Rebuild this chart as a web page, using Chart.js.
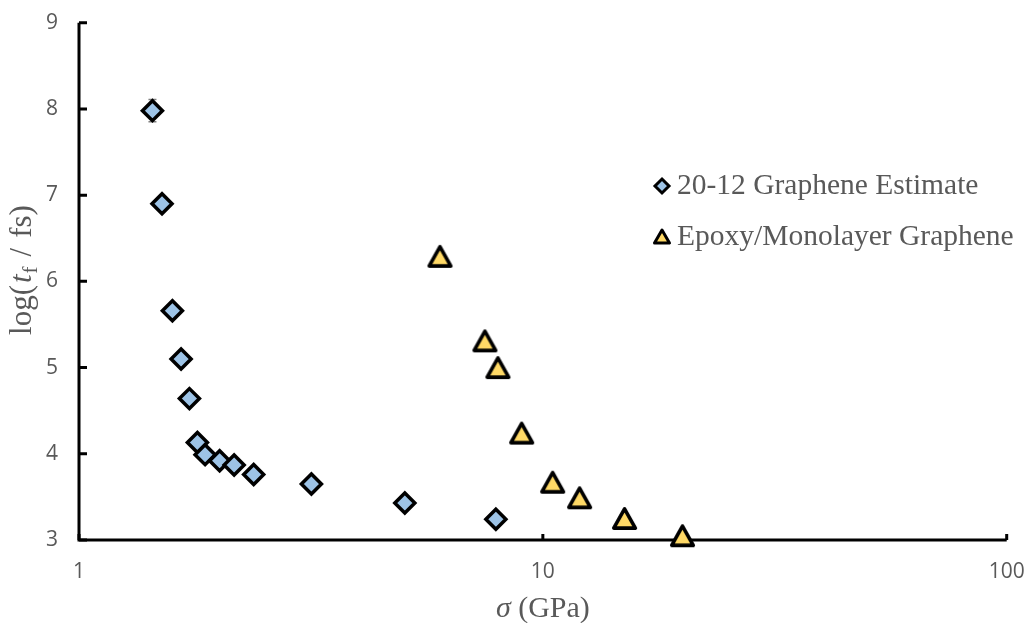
<!DOCTYPE html>
<html>
<head>
<meta charset="utf-8">
<script src="https://cdn.jsdelivr.net/npm/chart.js@4.4.0/dist/chart.umd.min.js"></script>
<style>
  html, body { margin: 0; padding: 0; background: #ffffff; }
  #wrap { width: 1028px; height: 623px; }
</style>
</head>
<body>
<div id="wrap"><canvas id="c" width="1028" height="623"></canvas></div>
<script>
// Fracture stress (GPa) against log of time-to-failure (fs)
const estimateSigma = [1.44, 1.51, 1.59, 1.66, 1.73, 1.80, 1.87, 2.01, 2.16, 2.38, 3.17, 5.04, 7.92];
const estimateLogT  = [7.98, 6.90, 5.66, 5.10, 4.64, 4.13, 3.99, 3.92, 3.87, 3.76, 3.65, 3.43, 3.24];
const estimateErr   = [0.13, 0, 0, 0, 0, 0, 0, 0, 0, 0, 0, 0, 0];

const epoxySigma = [6, 7.5, 8, 9, 10.5, 12, 15, 20];
const epoxyLogT  = [6.29, 5.31, 5.00, 4.24, 3.67, 3.49, 3.25, 3.05];

const xTicks = [1, 10, 100];
const yTicks = [3, 4, 5, 6, 7, 8, 9];

const seriesNames = ['20-12 Graphene Estimate', 'Epoxy/Monolayer Graphene'];

const BLUE = '#9DC3E6';
const GOLD = '#FFD966';
const INK = '#000000';
const TEXT = '#595959';
const SERIF = '"Liberation Serif", "Times New Roman", serif';
const SANS = '"Open Sans", "Liberation Sans", sans-serif';

// Triangle marker centred on its bounding box
function triangleMarker(hw, hh, lw) {
  const size = Math.ceil(2 * Math.max(hw, hh) + 2 * lw + 4);
  const cv = document.createElement('canvas');
  cv.width = size; cv.height = size;
  const g = cv.getContext('2d');
  const c = size / 2;
  g.beginPath();
  g.moveTo(c, c - hh);
  g.lineTo(c + hw, c + hh);
  g.lineTo(c - hw, c + hh);
  g.closePath();
  g.fillStyle = GOLD;
  g.fill();
  g.lineJoin = 'round';
  g.lineWidth = lw;
  g.strokeStyle = INK;
  g.stroke();
  return cv;
}

const triMark = triangleMarker(10.8, 9.6, 3.6);

function toPoints(xs, ys) { return xs.map((x, i) => ({ x: x, y: ys[i] })); }

function drawRuns(ctx, runs, cx, baseY) {
  let total = 0;
  runs.forEach(r => { ctx.font = r.font; r.w = ctx.measureText(r.text).width + (r.gap || 0); total += r.w; });
  let x = cx - total / 2;
  runs.forEach(r => { ctx.font = r.font; ctx.fillText(r.text, x, baseY + (r.dy || 0)); x += r.w; });
}

// Axis lines with inward tick marks, error caps, titles and legend
const frame = {
  id: 'frame',
  beforeDatasetsDraw(chart) {
    const { ctx, chartArea: a, scales: { x, y } } = chart;
    ctx.save();
    ctx.strokeStyle = '#808080';
    ctx.lineWidth = 1.5;
    estimateErr.forEach((e, i) => {
      if (!e) return;
      const px = x.getPixelForValue(estimateSigma[i]);
      const p1 = y.getPixelForValue(estimateLogT[i] + e);
      const p2 = y.getPixelForValue(estimateLogT[i] - e);
      ctx.beginPath();
      ctx.moveTo(px, p1); ctx.lineTo(px, p2);
      ctx.moveTo(px - 4, p1); ctx.lineTo(px + 4, p1);
      ctx.moveTo(px - 4, p2); ctx.lineTo(px + 4, p2);
      ctx.stroke();
    });
    ctx.strokeStyle = INK;
    ctx.lineWidth = 3;
    ctx.lineCap = 'butt';
    ctx.beginPath();
    ctx.moveTo(a.left, a.top);
    ctx.lineTo(a.left, a.bottom);
    ctx.lineTo(a.right, a.bottom);
    ctx.stroke();
    ctx.beginPath();
    yTicks.forEach(v => {
      const py = y.getPixelForValue(v);
      ctx.moveTo(a.left, py); ctx.lineTo(a.left + 8, py);
    });
    xTicks.forEach(v => {
      const px = x.getPixelForValue(v);
      ctx.moveTo(px, a.bottom); ctx.lineTo(px, a.bottom - 6);
    });
    ctx.stroke();
    ctx.restore();
  },
  afterDraw(chart) {
    const { ctx, chartArea: a } = chart;
    ctx.save();
    ctx.fillStyle = TEXT;
    ctx.textBaseline = 'alphabetic';
    ctx.textAlign = 'left';

    // x title: σ (GPa)
    drawRuns(ctx, [
      { text: 'σ', font: 'italic 30px ' + SERIF },
      { text: ' (GPa)', font: '30px ' + SERIF }
    ], (a.left + a.right) / 2, 617);

    // y title: log(t_f / fs)
    ctx.translate(31, 270);
    ctx.rotate(-Math.PI / 2);
    drawRuns(ctx, [
      { text: 'log(', font: '31px ' + SERIF, gap: 2 },
      { text: 't', font: 'italic 31px ' + SERIF, gap: 1 },
      { text: 'f', font: '21px ' + SERIF, dy: 6, gap: 10 },
      { text: '/', font: '31px ' + SERIF, gap: 10 },
      { text: 'fs)', font: '31px ' + SERIF }
    ], 0, 0);
    ctx.restore();

    // legend
    ctx.save();
    const lx = 662, ly = [186, 237];
    ctx.lineWidth = 3;
    ctx.strokeStyle = INK;
    ctx.beginPath();
    ctx.moveTo(lx, ly[0] - 7);
    ctx.lineTo(lx + 7, ly[0]);
    ctx.lineTo(lx, ly[0] + 7);
    ctx.lineTo(lx - 7, ly[0]);
    ctx.closePath();
    ctx.fillStyle = BLUE; ctx.fill(); ctx.stroke();
    ctx.beginPath();
    ctx.moveTo(lx, ly[1] - 7);
    ctx.lineTo(lx + 7.5, ly[1] + 6);
    ctx.lineTo(lx - 7.5, ly[1] + 6);
    ctx.closePath();
    ctx.fillStyle = GOLD; ctx.fill();
    ctx.lineJoin = 'round';
    ctx.stroke();
    ctx.fillStyle = TEXT;
    ctx.font = '29.5px ' + SERIF;
    ctx.textBaseline = 'middle';
    ctx.fillText(seriesNames[0], 677, ly[0]);
    ctx.fillText(seriesNames[1], 677, ly[1]);
    ctx.restore();
  }
};

new Chart(document.getElementById('c'), {
  type: 'scatter',
  data: {
    datasets: [
      {
        label: seriesNames[0],
        data: toPoints(estimateSigma, estimateLogT),
        pointStyle: 'rectRot',
        pointRadius: 10,
        pointHoverRadius: 10,
        backgroundColor: BLUE,
        borderColor: INK,
        borderWidth: 3.5,
        clip: false
      },
      {
        label: seriesNames[1],
        data: toPoints(epoxySigma, epoxyLogT),
        pointStyle: triMark,
        pointRadius: 12,
        backgroundColor: GOLD,
        borderColor: INK,
        borderWidth: 3.5,
        clip: false
      }
    ]
  },
  options: {
    responsive: false,
    devicePixelRatio: 1,
    animation: false,
    events: [],
    layout: { padding: { top: 22.7, right: 21.3, bottom: 0, left: 0 } },
    plugins: { legend: { display: false }, tooltip: { enabled: false } },
    scales: {
      x: {
        type: 'logarithmic',
        position: 'bottom',
        min: 1,
        max: 100,
        grid: { display: false, drawTicks: false },
        border: { display: false },
        afterBuildTicks: s => { s.ticks = xTicks.map(v => ({ value: v, major: true })); },
        afterFit: s => { s.height = 83; s.paddingLeft = 0; s.paddingRight = 0; },
        ticks: {
          color: TEXT,
          font: { family: SANS, size: 21 },
          padding: 19,
          maxRotation: 0,
          autoSkip: false,
          callback: v => String(v)
        }
      },
      y: {
        type: 'linear',
        min: 3,
        max: 9,
        grid: { display: false, drawTicks: false },
        border: { display: false },
        afterBuildTicks: s => { s.ticks = yTicks.map(v => ({ value: v })); },
        afterFit: s => { s.width = 79; s.paddingTop = 0; s.paddingBottom = 0; },
        ticks: {
          color: TEXT,
          font: { family: SANS, size: 21 },
          padding: 21,
          callback: v => String(v)
        }
      }
    }
  },
  plugins: [frame]
});
</script>
</body>
</html>
